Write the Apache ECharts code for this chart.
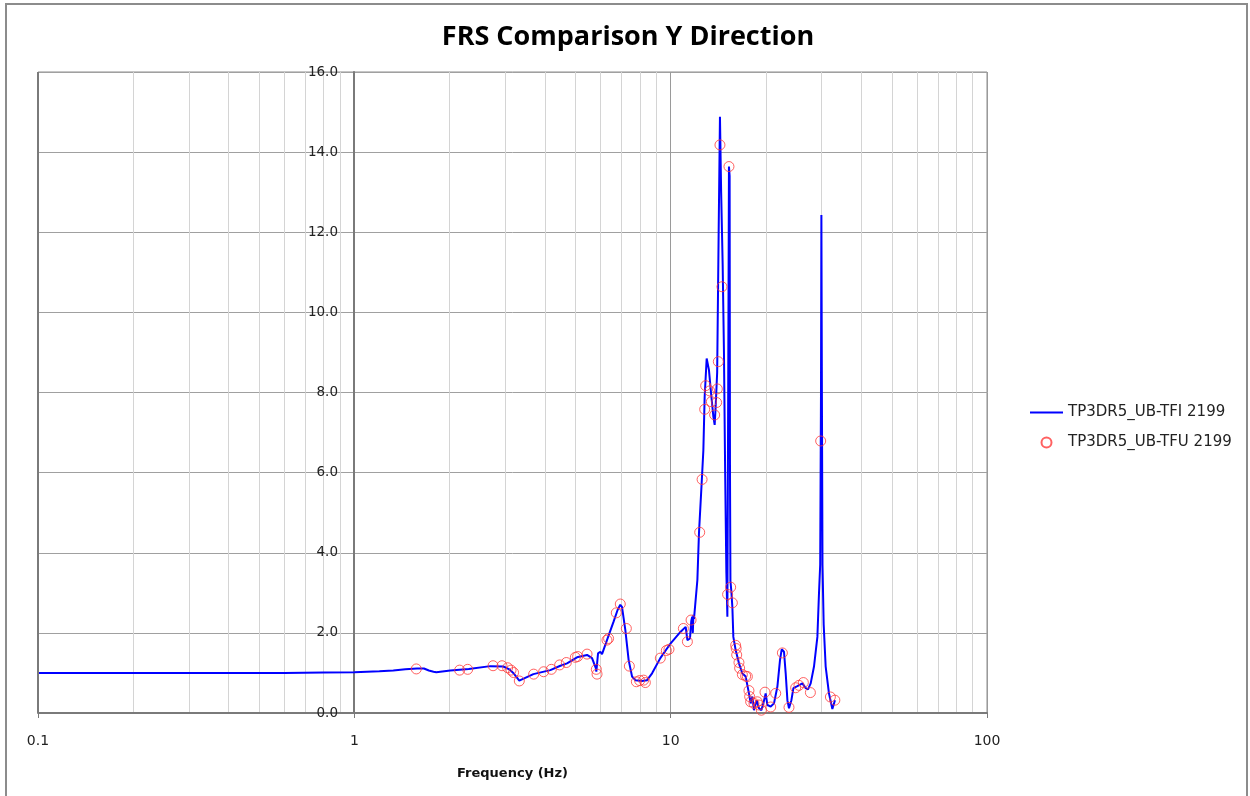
<!DOCTYPE html>
<html>
<head>
<meta charset="utf-8">
<title>FRS Comparison Y Direction</title>
<script src="https://cdn.jsdelivr.net/npm/echarts@6/dist/echarts.min.js"></script>
<style>
  html, body { margin: 0; padding: 0; background: #fff; }
  #chart { width: 1250px; height: 796px; }
</style>
</head>
<body>
<div id="chart"></div>
<script>
// Floor response spectrum, Y direction: [frequency (Hz), spectral acceleration]
const TITLE = 'FRS Comparison Y Direction';
const X_NAME = 'Frequency (Hz)';
const SERIES_NAMES = ['TP3DR5_UB-TFI 2199', 'TP3DR5_UB-TFU 2199'];
const X_TICKS = [0.1, 1, 10, 100];
const Y_MIN = 0, Y_MAX = 16, Y_STEP = 2;

// TFI curve (continuous line)
const tfiCurve = [
  [0.1, 1.0], [0.3, 1.0], [0.6, 1.0], [0.8, 1.01], [1.0, 1.02], [1.2, 1.04],
  [1.328, 1.06], [1.45, 1.09], [1.578, 1.11], [1.66, 1.11], [1.72, 1.06],
  [1.78, 1.03], [1.816, 1.02], [2.011, 1.06], [2.3, 1.10], [2.691, 1.17],
  [2.958, 1.16], [3.09, 1.09], [3.18, 1.0], [3.323, 0.81], [3.681, 0.97],
  [4.165, 1.07], [4.48, 1.18], [4.703, 1.24], [5.058, 1.39], [5.441, 1.45],
  [5.642, 1.37], [5.80, 1.12], [5.821, 1.03], [5.894, 1.49], [5.993, 1.53],
  [6.068, 1.47], [6.290, 1.82], [6.600, 2.28], [6.795, 2.57], [6.930, 2.70],
  [7.016, 2.65], [7.190, 2.07], [7.365, 1.32], [7.550, 0.91], [7.734, 0.82],
  [8.120, 0.80], [8.421, 0.82], [8.734, 0.99], [9.274, 1.37], [10.0, 1.74],
  [10.754, 2.03], [11.155, 2.15], [11.294, 1.82], [11.509, 1.86], [11.62, 2.30],
  [11.70, 2.40], [11.75, 2.0], [11.80, 2.45], [11.85, 2.35], [12.146, 3.32],
  [12.288, 4.49], [12.531, 5.74], [12.687, 6.56], [12.808, 7.9], [12.996, 8.85],
  [13.119, 8.81], [13.215, 8.56], [13.448, 7.9], [13.645, 7.4], [13.775, 7.19],
  [13.875, 7.65], [14.028, 8.5], [14.181, 12.0], [14.316, 14.88], [14.441, 13.0],
  [14.600, 11.2], [14.739, 9.0], [14.868, 6.0], [15.0, 3.5], [15.11, 2.4],
  [15.2, 8.0], [15.285, 13.64], [15.36, 13.4], [15.40, 6.0], [15.45, 3.3],
  [15.55, 3.05], [15.668, 2.65], [15.782, 1.9], [16.049, 1.57], [16.439, 1.24],
  [16.850, 0.99], [17.260, 0.91], [17.680, 0.49], [17.900, 0.24], [18.122, 0.41],
  [18.335, 0.07], [18.699, 0.32], [19.015, 0.12], [19.350, 0.07], [19.635, 0.24],
  [19.967, 0.49], [20.215, 0.20], [20.713, 0.16], [21.216, 0.24], [21.747, 0.66],
  [22.162, 1.32], [22.438, 1.59], [22.817, 1.53], [23.101, 0.99], [23.389, 0.32],
  [23.663, 0.12], [24.081, 0.32], [24.434, 0.62], [25.154, 0.67], [26.086, 0.74],
  [26.720, 0.62], [27.171, 0.59], [27.711, 0.74], [28.385, 1.16], [29.095, 1.90],
  [29.436, 2.99], [29.695, 3.70], [29.868, 8.0], [29.955, 12.43], [30.065, 8.0],
  [30.196, 3.70], [30.461, 2.20], [30.903, 1.16], [31.653, 0.49], [32.445, 0.10],
  [33.066, 0.32]
];

// TFU results (discrete markers)
const tfuPoints = [
  [1.570, 1.10], [2.152, 1.07], [2.282, 1.09], [2.745, 1.18], [2.930, 1.18],
  [3.052, 1.13], [3.129, 1.07], [3.187, 1.01], [3.323, 0.80], [3.689, 0.97],
  [3.967, 1.03], [4.195, 1.09], [4.457, 1.20], [4.679, 1.26], [4.996, 1.39],
  [5.081, 1.41], [5.441, 1.47], [5.821, 1.09], [5.851, 0.97], [6.290, 1.82],
  [6.364, 1.86], [6.731, 2.50], [6.930, 2.72], [7.243, 2.11], [7.403, 1.17],
  [7.791, 0.78], [7.978, 0.81], [8.214, 0.82], [8.316, 0.76], [9.274, 1.37],
  [9.690, 1.56], [9.877, 1.59], [10.969, 2.11], [11.294, 1.78], [11.600, 2.32],
  [12.353, 4.51], [12.570, 5.83], [12.81, 7.58], [12.902, 8.17], [13.283, 8.04],
  [13.448, 7.77], [13.775, 7.44], [13.973, 7.75], [14.044, 8.09], [14.147, 8.77],
  [14.316, 14.18], [14.530, 10.64], [15.135, 2.96], [15.285, 13.64], [15.476, 3.14],
  [15.668, 2.75], [16.049, 1.69], [16.11, 1.61], [16.17, 1.45], [16.439, 1.26],
  [16.52, 1.12], [16.850, 0.96], [17.260, 0.92], [17.476, 0.91], [17.680, 0.56],
  [17.77, 0.41], [17.900, 0.28], [18.335, 0.24], [18.79, 0.28], [19.015, 0.20],
  [19.350, 0.07], [19.87, 0.52], [20.713, 0.15], [21.48, 0.49], [22.55, 1.50],
  [23.663, 0.14], [24.84, 0.63], [25.44, 0.69], [26.27, 0.76], [27.65, 0.51],
  [29.80, 6.79], [31.98, 0.40], [33.04, 0.32]
];

// Minor log gridlines (2..9 within each decade)
const minorLines = [];
for (let d = 0.1; d < 100; d *= 10) {
  for (let k = 2; k <= 9; k++) minorLines.push({ xAxis: +(k * d).toPrecision(3) });
}

const GRID = { left: 38, top: 72, right: 263, bottom: 83 };
const FONT = '"DejaVu Sans", Verdana, sans-serif';

const chart = echarts.init(document.getElementById('chart'), null, { renderer: 'canvas' });

chart.setOption({
  animation: false,
  backgroundColor: '#ffffff',
  title: {
    text: TITLE,
    left: 623, top: 19, textAlign: 'center',
    textStyle: { fontFamily: '"Open Sans", sans-serif', fontWeight: 'bold', fontSize: 27, color: '#000' }
  },
  graphic: [
    {
      type: 'rect', silent: true, z: -10,
      shape: { x: 6, y: 4, width: 1241, height: 800 },
      style: { fill: 'none', stroke: '#8c8c8c', lineWidth: 2 }
    },
    {
      // heavier left edge of the plot frame
      type: 'line', silent: true, z: 10,
      shape: { x1: GRID.left, y1: GRID.top, x2: GRID.left, y2: 796 - GRID.bottom },
      style: { stroke: '#7a7a7a', lineWidth: 2 }
    }
  ],
  legend: {
    orient: 'vertical', left: 1024, top: 400, itemGap: 15,
    itemWidth: 33, itemHeight: 10,
    textStyle: { fontFamily: FONT, fontSize: 15, color: '#222' },
    data: [
      { name: SERIES_NAMES[0], itemStyle: { opacity: 0 } },
      { name: SERIES_NAMES[1] }
    ]
  },
  grid: {
    left: GRID.left, top: GRID.top, right: GRID.right, bottom: GRID.bottom,
    show: true, borderColor: '#8c8c8c', borderWidth: 1, backgroundColor: 'transparent'
  },
  xAxis: {
    type: 'log', logBase: 10, min: X_TICKS[0], max: X_TICKS[X_TICKS.length - 1],
    name: X_NAME, nameLocation: 'middle', nameGap: 54,
    nameTextStyle: { fontFamily: FONT, fontWeight: 'bold', fontSize: 13, color: '#111' },
    axisLine: { show: true, lineStyle: { color: '#7a7a7a', width: 2 } },
    axisTick: { show: true, length: 5, lineStyle: { color: '#7a7a7a' } },
    axisLabel: {
      margin: 21, fontFamily: FONT, fontSize: 14, color: '#222',
      formatter: v => String(+v.toPrecision(3))
    },
    splitLine: { show: true, lineStyle: { color: '#9a9a9a', width: 1 } }
  },
  yAxis: {
    type: 'value', min: Y_MIN, max: Y_MAX, interval: Y_STEP,
    position: 'left', offset: -316,
    axisLine: { show: true, lineStyle: { color: '#7a7a7a', width: 2 } },
    axisTick: { show: false },
    axisLabel: {
      margin: 16, fontFamily: FONT, fontSize: 13.5, color: '#222',
      formatter: v => v.toFixed(1)
    },
    splitLine: { show: true, lineStyle: { color: '#a0a0a0', width: 1 } }
  },
  series: [
    {
      name: '__minorGrid', type: 'line', data: [], silent: true, z: 0,
      markLine: {
        silent: true, z: 0, symbol: ['none', 'none'], animation: false,
        label: { show: false },
        lineStyle: { color: '#d4d4d4', width: 1, type: 'solid' },
        emphasis: { disabled: true },
        data: minorLines
      }
    },
    {
      name: SERIES_NAMES[0], type: 'line', data: tfiCurve, z: 3,
      showSymbol: false, symbol: 'none', smooth: false,
      lineStyle: { color: '#0000ff', width: 2 },
      itemStyle: { color: '#0000ff' }
    },
    {
      name: SERIES_NAMES[1], type: 'scatter', data: tfuPoints, z: 4,
      symbol: 'circle', symbolSize: 10,
      itemStyle: { color: 'rgba(0,0,0,0)', borderColor: '#ff3a3a', borderWidth: 1 }
    }
  ]
});
</script>
</body>
</html>
